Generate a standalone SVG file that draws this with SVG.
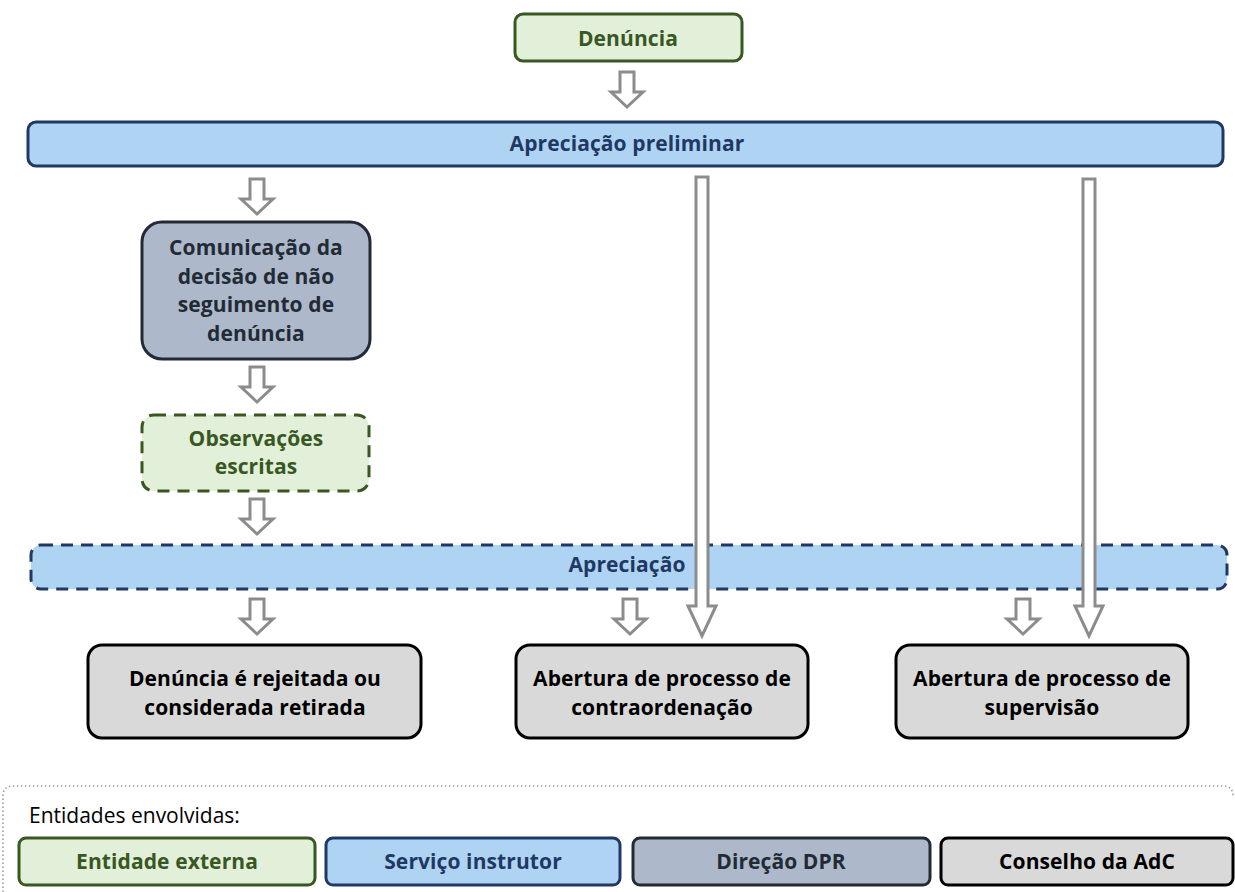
<svg xmlns="http://www.w3.org/2000/svg" width="1235" height="892" viewBox="0 0 1235 892">
<style>
text{font-family:"Open Sans","Noto Sans","DejaVu Sans",sans-serif;font-weight:bold;font-size:21px;letter-spacing:0.1px;text-anchor:middle;dominant-baseline:central}
.ext{fill:#e2f0d9;stroke:#385723;stroke-width:3}
.ext-t{fill:#385723}
.srv{fill:#afd4f3;stroke:#1f3864;stroke-width:3}
.srv-t{fill:#1f3864}
.dir{fill:#adb9ca;stroke:#222a35;stroke-width:3}
.dir-t{fill:#222a35}
.cons{fill:#d9d9d9;stroke:#000;stroke-width:3}
.cons-t{fill:#000}
.dash{stroke-dasharray:12 8}
.arr{fill:#fff;stroke:#8c8c8c;stroke-width:3;stroke-linejoin:miter}
.legend{fill:none;stroke:#9a9a9a;stroke-width:1.5;stroke-dasharray:1.5 2.5}
.lt{font-weight:normal;text-anchor:start;font-size:21px;letter-spacing:0;fill:#000}
</style>
<defs>
<polygon id="sa" class="arr" points="-7,0 7,0 7,20 16,20 0,35 -16,20 -7,20"/>
</defs>

<g id="n-denuncia">
<rect class="ext" x="515" y="14" width="227" height="47" rx="8"/>
<text class="ext-t" x="628" y="37.5">Denúncia</text>
</g>

<g id="n-apreciacao-preliminar">
<rect class="srv" x="28" y="122" width="1195" height="44" rx="8"/>
<text class="srv-t" x="627" y="143">Apreciação preliminar</text>
</g>

<g id="n-comunicacao">
<rect class="dir" x="142" y="222" width="228" height="137" rx="20"/>
<text class="dir-t" x="256" y="247">Comunicação da</text>
<text class="dir-t" x="256" y="276">decisão de não</text>
<text class="dir-t" x="256" y="304">seguimento de</text>
<text class="dir-t" x="256" y="333">denúncia</text>
</g>

<g id="n-observacoes">
<rect class="ext dash" x="142" y="415" width="227" height="76" rx="12"/>
<text class="ext-t" x="256" y="438">Observações</text>
<text class="ext-t" x="256" y="466">escritas</text>
</g>

<g id="n-apreciacao">
<rect class="srv dash" x="31" y="545" width="1196" height="44" rx="10"/>
<text class="srv-t" x="627" y="564">Apreciação</text>
</g>

<g id="n-rejeitada">
<rect class="cons" x="88" y="645" width="333" height="93" rx="14"/>
<text class="cons-t" x="255" y="678">Denúncia é rejeitada ou</text>
<text class="cons-t" x="255" y="707">considerada retirada</text>
</g>

<g id="n-contraordenacao">
<rect class="cons" x="516" y="645" width="292" height="93" rx="14"/>
<text class="cons-t" x="662" y="678">Abertura de processo de</text>
<text class="cons-t" x="662" y="707">contraordenação</text>
</g>

<g id="n-supervisao">
<rect class="cons" x="896" y="645" width="292" height="93" rx="14"/>
<text class="cons-t" x="1042" y="678">Abertura de processo de</text>
<text class="cons-t" x="1042" y="707">supervisão</text>
</g>

<g id="connectors">
<use href="#sa" x="627" y="72"/>
<use href="#sa" x="257" y="179"/>
<use href="#sa" x="257" y="367"/>
<use href="#sa" x="257" y="499"/>
<use href="#sa" x="257" y="599"/>
<use href="#sa" x="630" y="599"/>
<use href="#sa" x="1023" y="599"/>
<polygon class="arr" points="696,177 708,177 708,606 716,606 702,636 688,606 696,606"/>
<polygon class="arr" points="1083,179 1095,179 1095,606 1103,606 1089,636 1075,606 1083,606"/>
</g>

<g id="legend">
<path class="legend" d="M3,892 V796 Q3,786 13,786 H1223 Q1233,786 1233,796"/>
<text class="lt" x="29" y="815">Entidades envolvidas:</text>
<g id="lg-externa">
<rect class="ext" x="19" y="838" width="296" height="47" rx="7"/>
<text class="ext-t" x="167" y="861">Entidade externa</text>
</g>
<g id="lg-servico">
<rect class="srv" x="326" y="838" width="294" height="47" rx="7"/>
<text class="srv-t" x="473" y="861">Serviço instrutor</text>
</g>
<g id="lg-direcao">
<rect class="dir" x="633" y="838" width="297" height="47" rx="7"/>
<text class="dir-t" x="781" y="861">Direção DPR</text>
</g>
<g id="lg-conselho">
<rect class="cons" x="941" y="838" width="292" height="47" rx="7"/>
<text class="cons-t" x="1087" y="861">Conselho da AdC</text>
</g>
</g>
</svg>
